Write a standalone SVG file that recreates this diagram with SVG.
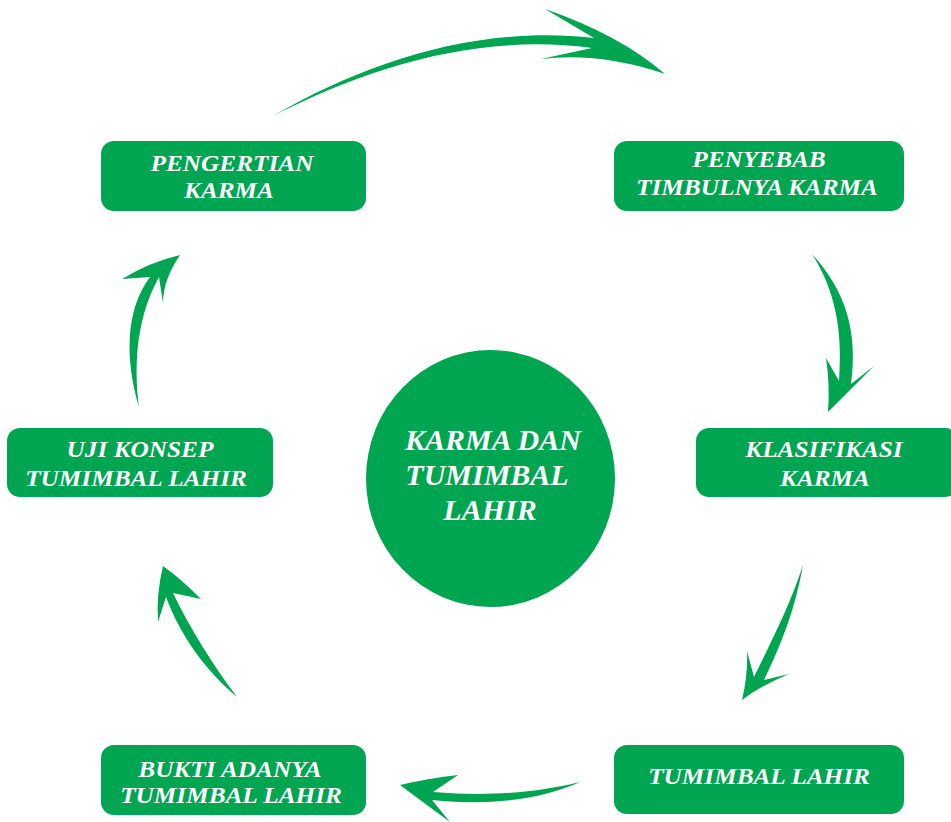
<svg xmlns="http://www.w3.org/2000/svg" width="951" height="822" viewBox="0 0 951 822">
<style>
.box{fill:#00a551}
.t{fill:#fff;font-family:"Liberation Serif","Times New Roman",serif;font-weight:bold;font-style:italic;font-size:23px;text-anchor:middle}
.c{fill:#fff;font-family:"Liberation Serif","Times New Roman",serif;font-weight:bold;font-style:italic;font-size:30px;text-anchor:middle}
.arr{fill:#00a551}
</style>
<rect width="951" height="822" fill="#fff"/>
<g id="connectors">
<path class="arr" d="M273,116 C370,60 480,25 594,38 L545,9 Q620,35 665,74 Q600,52 541,59 L592,48 C480,33 370,66 273,116 Z"/>
<path class="arr" d="M812,254 C845,290 858,330 851,384 L874,366 Q850,390 828,412 Q830,385 826,358 L839,381 C843,330 835,290 812,254 Z"/>
<path class="arr" d="M803,565 C795,610 781,645 764,680 L789,674 Q762,685 742,700 Q748,675 747,651 L754,677 C772,640 790,605 803,565 Z"/>
<path class="arr" d="M580,782 C540,800 490,806 432,800 L450,822 Q420,800 400,785 Q430,778 458,775 L433,792 C490,797 540,792 580,782 Z"/>
<path class="arr" d="M237,697 C212,664 190,628 173,593 L201,599 Q180,578 163,566 Q156,595 158,622 L166,597 C180,635 205,670 237,697 Z"/>
<path class="arr" d="M139,407 C125,360 125,310 150,277 L122,279 Q150,262 180,255 Q163,280 163,303 L159,277 C138,315 133,360 139,407 Z"/>
</g>
<g id="center">
<ellipse class="box" cx="490.5" cy="478.5" rx="124.5" ry="128.5"/>
<text class="c" x="493" y="450">KARMA DAN</text>
<text class="c" x="487" y="485">TUMIMBAL</text>
<text class="c" x="490" y="520">LAHIR</text>
</g>
<g id="pengertian">
<rect class="box" x="101" y="141" width="265" height="70" rx="13"/>
<text class="t" transform="translate(232,171) scale(1.1,1)">PENGERTIAN</text>
<text class="t" transform="translate(229,198) scale(1.1,1)">KARMA</text>
</g>
<g id="penyebab">
<rect class="box" x="614" y="141" width="290" height="70" rx="13"/>
<text class="t" transform="translate(759,167) scale(1.1,1)">PENYEBAB</text>
<text class="t" transform="translate(757,195) scale(1.1,1)">TIMBULNYA KARMA</text>
</g>
<g id="klasifikasi">
<rect class="box" x="696" y="428" width="262" height="69" rx="13"/>
<text class="t" transform="translate(824,457) scale(1.1,1)">KLASIFIKASI</text>
<text class="t" transform="translate(825,486) scale(1.1,1)">KARMA</text>
</g>
<g id="tumimbal">
<rect class="box" x="614" y="745" width="290" height="69" rx="13"/>
<text class="t" transform="translate(759,784) scale(1.1,1)">TUMIMBAL LAHIR</text>
</g>
<g id="bukti">
<rect class="box" x="101" y="745" width="265" height="70" rx="13"/>
<text class="t" transform="translate(230,777) scale(1.1,1)">BUKTI ADANYA</text>
<text class="t" transform="translate(231,803) scale(1.1,1)">TUMIMBAL LAHIR</text>
</g>
<g id="uji">
<rect class="box" x="7" y="428" width="266" height="69" rx="13"/>
<text class="t" transform="translate(140,457) scale(1.1,1)">UJI KONSEP</text>
<text class="t" transform="translate(136,486) scale(1.1,1)">TUMIMBAL LAHIR</text>
</g>
</svg>
